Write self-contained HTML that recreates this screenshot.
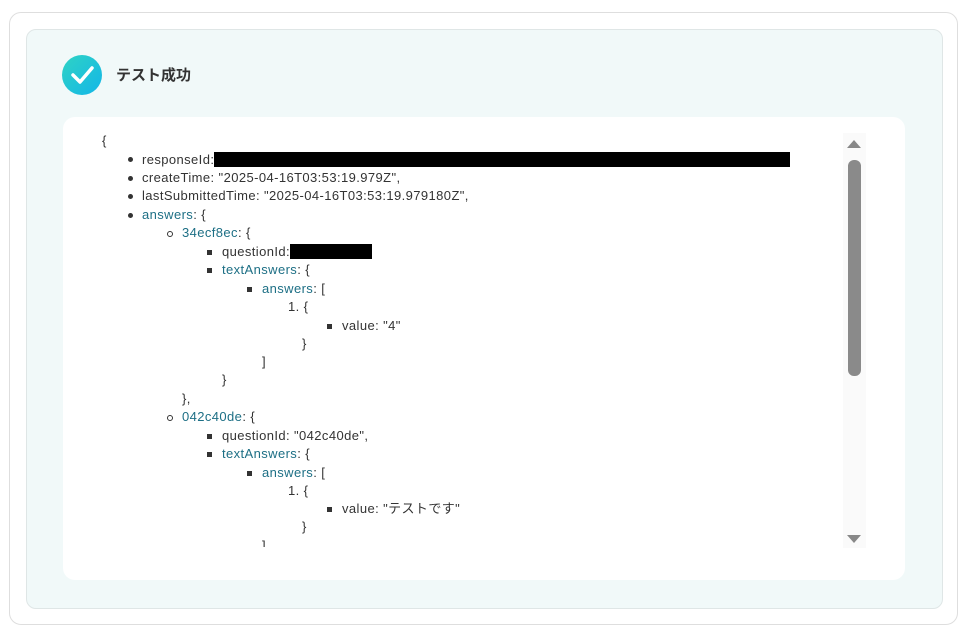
<!DOCTYPE html>
<html><head><meta charset="utf-8"><style>
body{margin:0;width:975px;height:636px;background:#fff;position:relative;overflow:hidden;font-family:"Liberation Sans","Noto Sans CJK JP",sans-serif;}
.outer{position:absolute;left:9px;top:12px;width:949px;height:613px;border:1px solid #dedede;border-radius:12px;box-sizing:border-box;}
.teal{position:absolute;left:26px;top:29px;width:917px;height:580px;background:#f1f9f9;border:1px solid #dfe6e6;border-radius:10px;box-sizing:border-box;}
.icon{position:absolute;left:62px;top:55px;width:40px;height:40px;border-radius:50%;background:linear-gradient(135deg,#2fd3c4,#13b6e8);}
.title{position:absolute;left:116px;top:64px;font-size:15px;font-weight:bold;color:#333;}
.white{position:absolute;left:63px;top:117px;width:842px;height:463px;background:#fff;border-radius:12px;}
.l{position:absolute;font-size:13px;letter-spacing:0.4px;color:#333;white-space:nowrap;line-height:16px;}
.k{color:#1d6f85;}
.b{position:absolute;width:5px;height:5px;background:#333;border-radius:50%;}
.c{position:absolute;width:4px;height:4px;border:1px solid #333;border-radius:50%;}
.s{position:absolute;width:5px;height:5px;background:#333;}
.red{display:inline-block;background:#000;height:15px;vertical-align:-3px;}
.track{position:absolute;left:843px;top:133px;width:23px;height:415px;background:#fafafa;}
.thumb{position:absolute;left:848px;top:160px;width:13px;height:216px;background:#8a8a8a;border-radius:6px;}
</style></head><body>
<div class="outer"></div>
<div class="teal"></div>
<div class="icon"><svg width="40" height="40"><path d="M11 20 L18 27 L30 13" stroke="#fff" stroke-width="3.5" fill="none" stroke-linecap="round" stroke-linejoin="round"/></svg></div>
<div class="title">テスト成功</div>
<div class="white"></div>
<div class="track"></div>
<div class="thumb"></div>
<svg style="position:absolute;left:846px;top:139px" width="16" height="10"><path d="M1 9 L8 1 L15 9Z" fill="#888"/></svg>
<svg style="position:absolute;left:846px;top:534px" width="16" height="10"><path d="M1 1 L8 9 L15 1Z" fill="#888"/></svg>

<div class="l" style="left:102px;top:133px">{</div>
<div class="b" style="left:128px;top:157px"></div><div class="l" style="left:142px;top:152px">responseId:<span class="red" style="width:576px"></span></div>
<div class="b" style="left:128px;top:176px"></div><div class="l" style="left:142px;top:170px">createTime: "2025-04-16T03:53:19.979Z",</div>
<div class="b" style="left:128px;top:194px"></div><div class="l" style="left:142px;top:188px">lastSubmittedTime: "2025-04-16T03:53:19.979180Z",</div>
<div class="b" style="left:128px;top:213px"></div><div class="l" style="left:142px;top:207px"><span class="k">answers</span>: {</div>
<div class="c" style="left:167px;top:231px"></div><div class="l" style="left:182px;top:225px"><span class="k">34ecf8ec</span>: {</div>
<div class="s" style="left:207px;top:250px"></div><div class="l" style="left:222px;top:244px">questionId:<span class="red" style="width:82px"></span></div>
<div class="s" style="left:207px;top:268px"></div><div class="l" style="left:222px;top:262px"><span class="k">textAnswers</span>: {</div>
<div class="s" style="left:247px;top:287px"></div><div class="l" style="left:262px;top:281px"><span class="k">answers</span>: [</div>
<div class="l" style="left:288px;top:299px">1. {</div>
<div class="s" style="left:327px;top:324px"></div><div class="l" style="left:342px;top:318px">value: "4"</div>
<div class="l" style="left:302px;top:336px">}</div>
<div class="l" style="left:262px;top:354px">]</div>
<div class="l" style="left:222px;top:372px">}</div>
<div class="l" style="left:182px;top:391px">},</div>
<div class="c" style="left:167px;top:415px"></div><div class="l" style="left:182px;top:409px"><span class="k">042c40de</span>: {</div>
<div class="s" style="left:207px;top:434px"></div><div class="l" style="left:222px;top:428px">questionId: "042c40de",</div>
<div class="s" style="left:207px;top:452px"></div><div class="l" style="left:222px;top:446px"><span class="k">textAnswers</span>: {</div>
<div class="s" style="left:247px;top:471px"></div><div class="l" style="left:262px;top:465px"><span class="k">answers</span>: [</div>
<div class="l" style="left:288px;top:483px">1. {</div>
<div class="s" style="left:327px;top:507px"></div><div class="l" style="left:342px;top:501px">value: "テストです"</div>
<div class="l" style="left:302px;top:519px">}</div>
<div class="l" style="left:262px;top:538px;height:9px;overflow:hidden">]</div>
</body></html>
